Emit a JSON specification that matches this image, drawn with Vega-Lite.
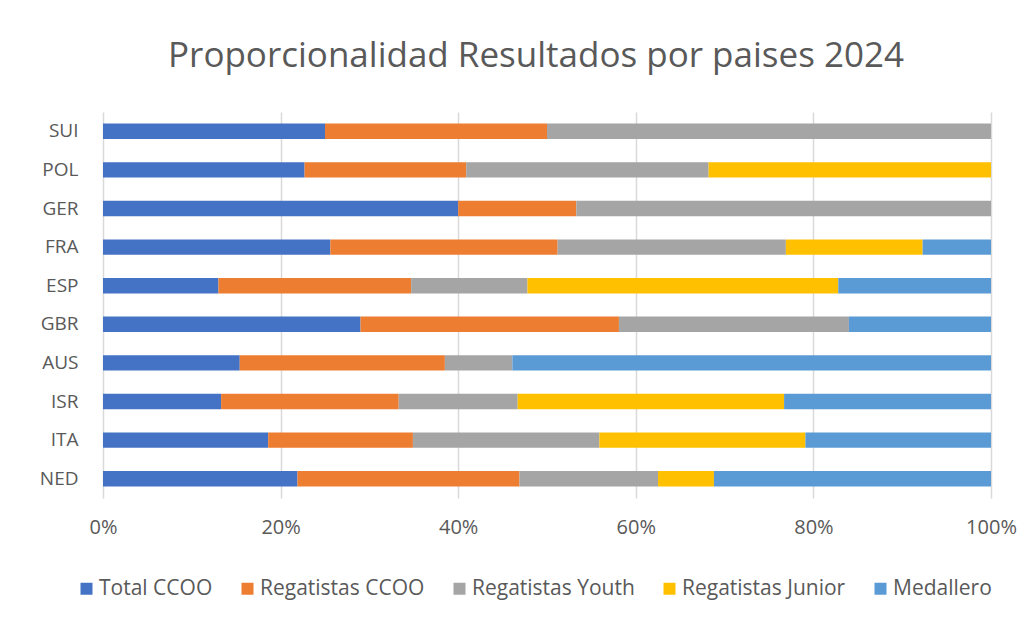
{
  "$schema": "https://vega.github.io/schema/vega-lite/v6.json",
  "autosize": "none",
  "width": 888,
  "height": 386,
  "padding": {"left": 103, "top": 112, "right": 44, "bottom": 132},
  "background": "white",
  "title": {
    "text": "Proporcionalidad Resultados por paises 2024",
    "fontSize": 35,
    "font": "Open Sans",
    "fontWeight": "normal",
    "color": "#595959",
    "anchor": "middle",
    "offset": 38,
    "dx": -11
  },
  "data": {
    "values": [
      {"pais": "SUI", "serie": "Total CCOO", "orden": 1, "valor": 25},
      {"pais": "SUI", "serie": "Regatistas CCOO", "orden": 2, "valor": 25},
      {"pais": "SUI", "serie": "Regatistas Youth", "orden": 3, "valor": 50},
      {"pais": "SUI", "serie": "Regatistas Junior", "orden": 4, "valor": 0},
      {"pais": "SUI", "serie": "Medallero", "orden": 5, "valor": 0},
      {"pais": "POL", "serie": "Total CCOO", "orden": 1, "valor": 22.7},
      {"pais": "POL", "serie": "Regatistas CCOO", "orden": 2, "valor": 18.2},
      {"pais": "POL", "serie": "Regatistas Youth", "orden": 3, "valor": 27.3},
      {"pais": "POL", "serie": "Regatistas Junior", "orden": 4, "valor": 31.8},
      {"pais": "POL", "serie": "Medallero", "orden": 5, "valor": 0},
      {"pais": "GER", "serie": "Total CCOO", "orden": 1, "valor": 40},
      {"pais": "GER", "serie": "Regatistas CCOO", "orden": 2, "valor": 13.3},
      {"pais": "GER", "serie": "Regatistas Youth", "orden": 3, "valor": 46.7},
      {"pais": "GER", "serie": "Regatistas Junior", "orden": 4, "valor": 0},
      {"pais": "GER", "serie": "Medallero", "orden": 5, "valor": 0},
      {"pais": "FRA", "serie": "Total CCOO", "orden": 1, "valor": 25.6},
      {"pais": "FRA", "serie": "Regatistas CCOO", "orden": 2, "valor": 25.6},
      {"pais": "FRA", "serie": "Regatistas Youth", "orden": 3, "valor": 25.7},
      {"pais": "FRA", "serie": "Regatistas Junior", "orden": 4, "valor": 15.4},
      {"pais": "FRA", "serie": "Medallero", "orden": 5, "valor": 7.7},
      {"pais": "ESP", "serie": "Total CCOO", "orden": 1, "valor": 13.0},
      {"pais": "ESP", "serie": "Regatistas CCOO", "orden": 2, "valor": 21.7},
      {"pais": "ESP", "serie": "Regatistas Youth", "orden": 3, "valor": 13.1},
      {"pais": "ESP", "serie": "Regatistas Junior", "orden": 4, "valor": 35.0},
      {"pais": "ESP", "serie": "Medallero", "orden": 5, "valor": 17.2},
      {"pais": "GBR", "serie": "Total CCOO", "orden": 1, "valor": 29.0},
      {"pais": "GBR", "serie": "Regatistas CCOO", "orden": 2, "valor": 29.1},
      {"pais": "GBR", "serie": "Regatistas Youth", "orden": 3, "valor": 25.9},
      {"pais": "GBR", "serie": "Regatistas Junior", "orden": 4, "valor": 0},
      {"pais": "GBR", "serie": "Medallero", "orden": 5, "valor": 16.0},
      {"pais": "AUS", "serie": "Total CCOO", "orden": 1, "valor": 15.4},
      {"pais": "AUS", "serie": "Regatistas CCOO", "orden": 2, "valor": 23.1},
      {"pais": "AUS", "serie": "Regatistas Youth", "orden": 3, "valor": 7.6},
      {"pais": "AUS", "serie": "Regatistas Junior", "orden": 4, "valor": 0},
      {"pais": "AUS", "serie": "Medallero", "orden": 5, "valor": 53.9},
      {"pais": "ISR", "serie": "Total CCOO", "orden": 1, "valor": 13.3},
      {"pais": "ISR", "serie": "Regatistas CCOO", "orden": 2, "valor": 20.0},
      {"pais": "ISR", "serie": "Regatistas Youth", "orden": 3, "valor": 13.4},
      {"pais": "ISR", "serie": "Regatistas Junior", "orden": 4, "valor": 30.0},
      {"pais": "ISR", "serie": "Medallero", "orden": 5, "valor": 23.3},
      {"pais": "ITA", "serie": "Total CCOO", "orden": 1, "valor": 18.6},
      {"pais": "ITA", "serie": "Regatistas CCOO", "orden": 2, "valor": 16.3},
      {"pais": "ITA", "serie": "Regatistas Youth", "orden": 3, "valor": 21.0},
      {"pais": "ITA", "serie": "Regatistas Junior", "orden": 4, "valor": 23.2},
      {"pais": "ITA", "serie": "Medallero", "orden": 5, "valor": 20.9},
      {"pais": "NED", "serie": "Total CCOO", "orden": 1, "valor": 21.9},
      {"pais": "NED", "serie": "Regatistas CCOO", "orden": 2, "valor": 25.0},
      {"pais": "NED", "serie": "Regatistas Youth", "orden": 3, "valor": 15.6},
      {"pais": "NED", "serie": "Regatistas Junior", "orden": 4, "valor": 6.3},
      {"pais": "NED", "serie": "Medallero", "orden": 5, "valor": 31.2}
    ]
  },
  "mark": {"type": "bar"},
  "encoding": {
    "y": {
      "field": "pais",
      "type": "nominal",
      "sort": ["SUI", "POL", "GER", "FRA", "ESP", "GBR", "AUS", "ISR", "ITA", "NED"],
      "title": null,
      "scale": {"paddingInner": 0.6, "paddingOuter": 0.3},
      "axis": {
        "domain": false,
        "ticks": false,
        "labelFont": "Open Sans",
        "labelFontSize": 19,
        "labelColor": "#595959",
        "labelPadding": 25,
        "grid": false
      }
    },
    "x": {
      "field": "valor",
      "type": "quantitative",
      "stack": "normalize",
      "title": null,
      "scale": {"domain": [0, 1]},
      "axis": {
        "format": ".0%",
        "values": [0, 0.2, 0.4, 0.6, 0.8, 1],
        "domain": false,
        "ticks": false,
        "grid": true,
        "gridColor": "#d9d9d9",
        "gridWidth": 1.5,
        "labelFlush": false,
        "labelFont": "Open Sans",
        "labelFontSize": 20,
        "labelColor": "#595959",
        "labelPadding": 19
      }
    },
    "color": {
      "field": "serie",
      "type": "nominal",
      "sort": ["Total CCOO", "Regatistas CCOO", "Regatistas Youth", "Regatistas Junior", "Medallero"],
      "scale": {
        "domain": ["Total CCOO", "Regatistas CCOO", "Regatistas Youth", "Regatistas Junior", "Medallero"],
        "range": ["#4472C4", "#ED7D31", "#A5A5A5", "#FFC000", "#5B9BD5"]
      },
      "legend": {
        "title": null,
        "orient": "none",
        "direction": "horizontal",
        "legendX": -27,
        "legendY": 466,
        "symbolType": "square",
        "symbolSize": 144,
        "symbolStrokeWidth": 0,
        "labelFont": "Open Sans",
        "labelFontSize": 21,
        "labelColor": "#595959",
        "labelLimit": 0,
        "labelOffset": 2,
        "columnPadding": 24
      }
    },
    "order": {"field": "orden", "type": "quantitative"}
  },
  "config": {
    "view": {"stroke": null}
  }
}
